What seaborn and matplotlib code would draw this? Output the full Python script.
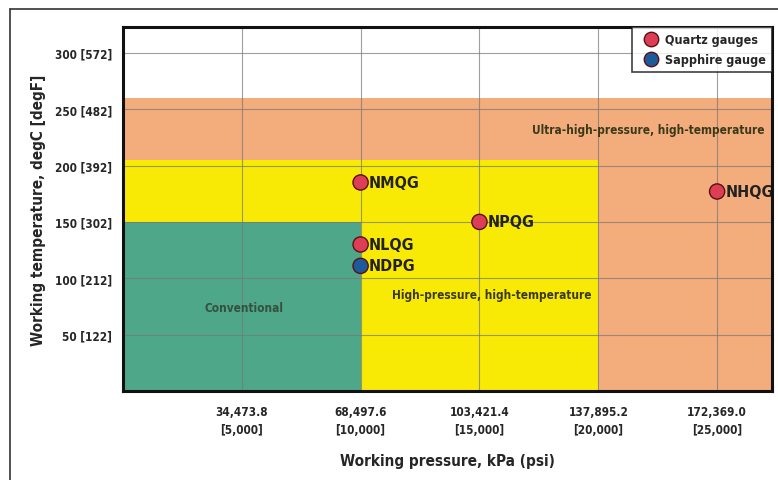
import matplotlib
matplotlib.use("Agg")
import matplotlib.pyplot as plt
import seaborn as sns
import pandas as pd
from matplotlib.patches import Rectangle
from matplotlib import font_manager

# gauge data (x in psi, y in degC)
gauges = ["NMQG", "NLQG", "NDPG", "NPQG", "NHQG"]
pressure_psi = [10000, 10000, 10000, 15000, 25000]
temperature_c = [185, 130, 111, 150, 177]
gauge_type = ["Quartz gauges", "Quartz gauges", "Sapphire gauge", "Quartz gauges", "Quartz gauges"]

# operating envelopes: name, max pressure (psi), max temp (degC)
region_names = ["Ultra-high-pressure, high-temperature", "High-pressure, high-temperature", "Conventional"]
region_pmax = [27300, 20000, 10000]
region_tmax = [260, 205, 150]
region_colors = ["#F3AC7C", "#F8EA05", "#4FA78A"]

x_ticks = [5000, 10000, 15000, 20000, 25000]
x_labels = ["34,473.8\n[5,000]", "68,497.6\n[10,000]", "103,421.4\n[15,000]",
            "137,895.2\n[20,000]", "172,369.0\n[25,000]"]
y_ticks = [50, 100, 150, 200, 250, 300]
y_labels = ["50 [122]", "100 [212]", "150 [302]", "200 [392]", "250 [482]", "300 [572]"]

df = pd.DataFrame({"gauge": gauges, "psi": pressure_psi, "temp": temperature_c, "type": gauge_type})

sns.set_style("white")
names = {f.name for f in font_manager.fontManager.ttflist}
fams = [n for n in ["Liberation Sans Narrow", "DejaVu Sans Condensed"] if n in names] + ["DejaVu Sans"]
plt.rcParams["font.family"] = fams
plt.rcParams["font.stretch"] = "condensed"
plt.rcParams["font.weight"] = "bold"

fig = plt.figure(figsize=(7.78, 4.81), dpi=100)
# outer frame of the figure (only left/top visible in the original)
fig.add_artist(plt.Line2D([0.013, 0.013], [0.0, 0.979], color="#333333", lw=1.2))
fig.add_artist(plt.Line2D([0.013, 1.0], [0.979, 0.979], color="#333333", lw=1.2))

ax = fig.add_axes([0.158, 0.185, 0.834, 0.757])
ax.set_xlim(0, 27300)
ax.set_ylim(0, 323)

for name, pmax, tmax, col in zip(region_names, region_pmax, region_tmax, region_colors):
    ax.add_patch(Rectangle((0, 0), pmax, tmax, facecolor=col, edgecolor="none", zorder=1))

for xt in x_ticks:
    ax.axvline(xt, color="#777777", lw=0.8, alpha=0.7, zorder=2)
for yt in y_ticks:
    ax.axhline(yt, color="#777777", lw=0.8, alpha=0.7, zorder=2)

sns.scatterplot(data=df, x="psi", y="temp", hue="type",
                palette={"Quartz gauges": "#DC3F55", "Sapphire gauge": "#1D5A9C"},
                s=120, edgecolor="#5a1010", linewidth=1.0, zorder=4, ax=ax)

for _, r in df.iterrows():
    ax.annotate(r["gauge"], (r["psi"], r["temp"]), xytext=(6, 0), textcoords="offset points",
                va="center", ha="left", fontsize=11.5, fontweight="bold", color="#222222", zorder=5)

txt_col = "#3a3a1a"
ax.text(5100, 74, "Conventional", ha="center", va="center", fontsize=8.5, color="#35503f")
ax.text(15500, 86, "High-pressure, high-temperature", ha="center", va="center", fontsize=8.5, color=txt_col)
ax.text(27000, 232, "Ultra-high-pressure, high-temperature", ha="right", va="center", fontsize=8.5, color=txt_col)

ax.set_xticks(x_ticks)
ax.set_xticklabels(x_labels, fontsize=8.5, linespacing=1.5)
ax.set_yticks(y_ticks)
ax.set_yticklabels(y_labels, fontsize=8.5)
ax.tick_params(length=0, pad=10)
ax.tick_params(axis="y", pad=8)
ax.set_xlabel("Working pressure, kPa (psi)", fontsize=11, fontweight="bold", labelpad=12)
ax.set_ylabel("Working temperature, degC [degF]", fontsize=11, fontweight="bold", labelpad=6)

for sp in ax.spines.values():
    sp.set_color("#111111")
    sp.set_linewidth(2.2)
    sp.set_zorder(6)

leg = ax.legend(loc="upper right", frameon=True, fontsize=9, handletextpad=0.1,
                borderaxespad=0.0, markerscale=0.95, fancybox=False, borderpad=0.5,
                labelspacing=0.55)
leg.get_frame().set_edgecolor("#111111")
leg.get_frame().set_linewidth(1.2)
leg.set_zorder(7)

fig.savefig("out.png", dpi=100)
